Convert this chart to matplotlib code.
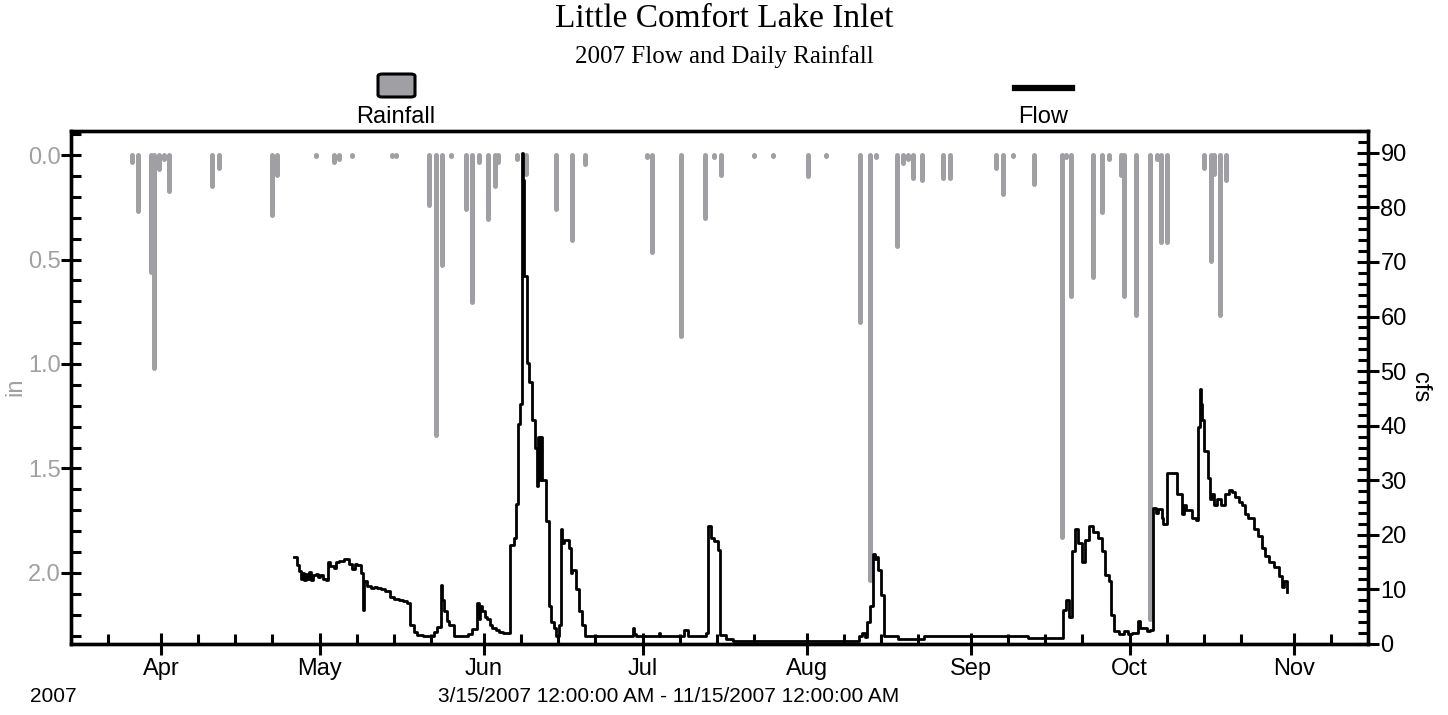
import matplotlib
matplotlib.use("Agg")
import matplotlib.pyplot as plt
import matplotlib.dates as mdates
from matplotlib.patches import FancyBboxPatch
from matplotlib.lines import Line2D
from matplotlib.ticker import MultipleLocator
import numpy as np
import pandas as pd

# ---- data (days after 3/15/2007 00:00) ----
rain_day = [11.5, 12.7, 15.1, 15.6, 16.7, 17.6, 18.5, 26.7, 27.9, 37.9, 39.0,
            46.2, 49.6, 50.6, 53.1, 60.7, 61.3, 67.7, 68.9, 70.1, 71.8, 74.7,
            75.8, 77.1, 78.8, 80.0, 80.7, 84.2, 85.9, 91.7, 94.7, 97.0, 108.8,
            109.8, 115.2, 119.8, 121.5, 122.8, 129.1, 132.6, 139.2, 142.6, 149.1,
            151.0, 152.1, 156.1, 157.2, 158.1, 159.0, 160.8, 164.8, 166.1, 174.8,
            176.1, 178.0, 181.9, 187.2, 188.0, 188.9, 193.0, 194.7, 196.0, 198.4,
            198.9, 201.2, 203.8, 205.1, 205.9, 207.0, 214.1, 215.3, 216.0, 217.1,
            218.2]
rain_in = [0.035, 0.27, 0.56, 1.02, 0.067, 0.02, 0.17, 0.15, 0.062, 0.285, 0.094,
           0.005, 0.035, 0.02, 0.005, 0.005, 0.005, 0.24, 1.34, 0.525, 0.005, 0.257,
           0.703, 0.035, 0.305, 0.15, 0.035, 0.02, 0.09, 0.257, 0.405, 0.045, 0.01,
           0.464, 0.865, 0.30, 0.01, 0.094, 0.005, 0.005, 0.10, 0.005, 0.80,
           2.035, 0.01, 0.437, 0.04, 0.02, 0.11, 0.12, 0.11, 0.11, 0.062,
           0.185, 0.005, 0.137, 1.83, 0.01, 0.673, 0.584, 0.273, 0.02, 0.094,
           0.673, 0.764, 2.22, 0.02, 0.418, 0.418, 0.062, 0.508, 0.09, 0.764,
           0.12]

flow_day = [42.2, 42.6, 43.0, 43.4, 43.7, 44.0, 44.3, 44.6, 45.0, 45.3, 45.7, 46.2,
            46.6, 47.1, 47.6, 48.1, 48.5, 49.0, 49.6, 50.0, 50.6, 51.5, 52.2, 52.6,
            53.1, 53.6, 54.0, 54.8, 55.2, 55.4, 56.0, 56.6, 57.2, 57.8, 58.6, 59.4,
            60.3, 61.0, 61.9, 62.7, 63.5, 64.1, 64.8, 65.4, 66.5, 67.9, 68.5, 69.2,
            69.8, 70.1, 70.4, 71.0, 71.4, 72.3, 73.5, 74.9, 75.8, 76.7, 77.0, 77.2,
            77.7, 78.2, 78.6, 79.1, 79.6, 80.2, 80.8, 81.6, 82.7, 83.0, 83.6, 84.0,
            84.4, 84.8, 85.1, 85.4, 85.6, 86.2, 86.6, 87.0, 87.6, 88.1, 88.3, 88.6,
            88.8, 89.0, 89.7, 90.3, 90.7, 91.2, 91.7, 92.2, 92.5, 92.8, 93.1, 94.1,
            94.4, 94.7, 95.3, 96.0, 96.6, 97.0, 105.7, 106.1, 106.4, 106.7, 110.8,
            111.0, 111.3, 115.8, 116.5, 119.9, 120.4, 120.8, 121.5, 122.2, 122.6,
            123.7, 125.0, 148.9, 149.5, 149.9, 150.4, 151.0, 151.5, 151.8, 152.0,
            152.4, 153.0, 153.6, 156.2, 161.2, 165.0, 180.8, 187.4, 188.0, 188.5,
            189.0, 189.6, 190.3, 190.9, 191.5, 192.3, 193.1, 194.0, 194.8, 195.4,
            196.0, 196.4, 197.1, 198.0, 199.0, 199.7, 200.5, 201.6, 202.0, 202.6,
            203.2, 203.8, 204.3, 205.0, 205.4, 206.0, 206.3, 207.1, 208.4, 209.0,
            209.8, 210.3, 210.7, 211.7, 212.5, 212.8, 213.3, 213.5, 213.7, 214.1,
            214.7, 215.2, 215.5, 216.0, 216.4, 217.2, 217.9, 218.8, 219.4, 219.9,
            220.6, 221.2, 221.8, 222.4, 223.4, 224.3, 224.9, 225.6, 226.3, 227.2,
            228.1, 228.7, 229.2, 229.7]
flow_cfs = [16.0, 14.5, 13.3, 12.0, 13.0, 11.8, 12.8, 12.0, 13.2, 11.8, 12.6, 12.9,
            12.2, 12.6, 11.9, 11.8, 15.0, 14.3, 14.0, 15.0, 15.3, 15.6, 15.5, 14.6,
            13.8, 14.6, 14.5, 13.0, 6.3, 11.5, 10.6, 10.2, 10.4, 10.2, 10.0, 9.8,
            8.6, 8.3, 8.1, 7.9, 7.6, 3.5, 2.2, 1.7, 1.5, 1.4, 2.2, 3.1,
            10.9, 8.0, 6.0, 4.2, 3.5, 1.5, 1.4, 1.8, 2.8, 7.6, 4.5, 7.0,
            6.0, 5.0, 4.5, 3.4, 3.0, 2.5, 2.2, 2.0, 2.0, 18.2, 19.5, 25.6,
            40.3, 44.0, 90.0, 85.0, 67.4, 51.4, 48.0, 41.0, 36.0, 29.0, 38.0, 30.0,
            38.0, 30.0, 22.5, 6.9, 4.0, 3.0, 1.5, 3.5, 21.0, 18.5, 19.0, 17.5,
            13.0, 13.5, 10.0, 6.0, 3.5, 1.4, 1.4, 3.0, 1.8, 1.4, 1.4,
            2.0, 1.4, 2.5, 1.4, 2.0, 21.6, 19.5, 18.8, 17.3, 1.6,
            1.0, 0.5, 1.5, 2.0, 1.2, 4.0, 6.9, 16.4, 15.5, 16.0,
            13.5, 9.0, 1.5, 1.0, 1.5, 1.4, 1.1, 6.3, 8.1, 5.0,
            17.0, 21.0, 18.5, 15.1, 19.0, 21.6, 20.5, 19.5, 17.0, 12.7,
            11.5, 5.3, 2.4, 1.8, 2.3, 1.8, 2.0, 4.3, 3.0, 3.0,
            2.4, 2.5, 25.0, 24.0, 24.8, 23.0, 21.9, 31.4, 31.4, 27.5,
            23.8, 25.5, 24.5, 23.0, 22.7, 39.7, 46.7, 44.0, 41.0, 35.4,
            30.5, 26.5, 27.5, 25.5, 26.5, 25.5, 27.5, 28.3, 27.8, 27.0,
            26.0, 25.5, 23.8, 23.0, 21.0, 19.8, 17.5, 16.2, 15.0, 14.2,
            12.5, 10.5, 11.5, 9.5]

start = pd.Timestamp("2007-03-15")
end = pd.Timestamp("2007-11-15")

rain_x = mdates.date2num((start + pd.to_timedelta(rain_day, unit="D")).to_pydatetime())
flow_x = mdates.date2num((start + pd.to_timedelta(flow_day, unit="D")).to_pydatetime())

GRAY = "#a0a0a4"
plt.rcParams["font.family"] = ["Liberation Sans", "DejaVu Sans"]

fig = plt.figure(figsize=(14.48, 7.15), dpi=100)
ax = fig.add_axes([71 / 1448, 1 - 644 / 715, (1368 - 71) / 1448, (644 - 131) / 715])
ax2 = ax.twinx()

# rainfall bars hanging from the top
ax.vlines(rain_x, 0, rain_in, colors=GRAY, linewidth=3.6, capstyle="round")
ax.set_ylim(2.34, -0.115)
ax.set_xlim(mdates.date2num(start.to_pydatetime()), mdates.date2num(end.to_pydatetime()))

# flow
ax2.plot(flow_x, flow_cfs, color="black", linewidth=2.0, drawstyle="steps-post")
ax2.set_ylim(0, 94)

# x axis
ax.xaxis.set_major_locator(mdates.MonthLocator())
ax.xaxis.set_major_formatter(mdates.DateFormatter("%b"))
ax.xaxis.set_minor_locator(mdates.DayLocator(bymonthday=[8, 15, 22]))
ax.tick_params(axis="x", which="major", direction="inout", length=16, width=2.2,
               labelsize=17, pad=2)
ax.tick_params(axis="x", which="minor", direction="in", length=7.2, width=2.2)

# left axis (rain)
ax.yaxis.set_major_locator(MultipleLocator(0.5))
ax.yaxis.set_minor_locator(MultipleLocator(0.1))
ax.yaxis.set_major_formatter(lambda v, p: f"{v:.1f}")
ax.tick_params(axis="y", which="major", direction="inout", length=14.4, width=2.2,
               labelsize=17, labelcolor=GRAY, pad=0)
ax.tick_params(axis="y", which="minor", direction="in", length=7.2, width=2.2)

# right axis (flow)
ax2.yaxis.set_major_locator(MultipleLocator(10))
ax2.yaxis.set_minor_locator(MultipleLocator(2))
ax2.tick_params(axis="y", which="major", direction="inout", length=16, width=2.2,
                labelsize=17, pad=1)
ax2.tick_params(axis="y", which="minor", direction="in", length=7.2, width=2.2)

for a in (ax, ax2):
    for s in a.spines.values():
        s.set_linewidth(2.4)

# axis titles
fig.text(15 / 1448, 1 - 387 / 715, "in", color=GRAY, fontsize=17, rotation=90,
         ha="center", va="center")
fig.text(1420 / 1448, 1 - 387 / 715, "cfs", fontsize=17, rotation=-90,
         ha="center", va="center")

# titles
fig.text(0.5, 1 - 27 / 715, "Little Comfort Lake Inlet", ha="center", va="baseline",
         family="Liberation Serif", fontsize=24)
fig.text(0.5, 1 - 63 / 715, "2007 Flow and Daily Rainfall", ha="center", va="baseline",
         family="Liberation Serif", fontsize=18)

# legend
fig.patches.append(FancyBboxPatch((378 / 1448, 1 - 97 / 715), 37 / 1448, 23 / 715,
                                  boxstyle="round,pad=0,rounding_size=0.003",
                                  facecolor=GRAY, edgecolor="black", linewidth=2.2,
                                  transform=fig.transFigure, figure=fig))
fig.text(396 / 1448, 1 - 117 / 715, "Rainfall", ha="center", va="center", fontsize=17)
fig.lines.append(Line2D([1015 / 1448, 1072 / 1448], [1 - 88 / 715, 1 - 88 / 715],
                        color="black", linewidth=4.5, transform=fig.transFigure,
                        figure=fig))
fig.text(1043 / 1448, 1 - 117 / 715, "Flow", ha="center", va="center", fontsize=17)

# footer
fig.text(30 / 1448, 1 - 697 / 715, "2007", ha="left", va="center", fontsize=15)
fig.text(669 / 1448, 1 - 697 / 715, "3/15/2007 12:00:00 AM - 11/15/2007 12:00:00 AM",
         ha="center", va="center", fontsize=15)

fig.savefig("out.png", dpi=100)
